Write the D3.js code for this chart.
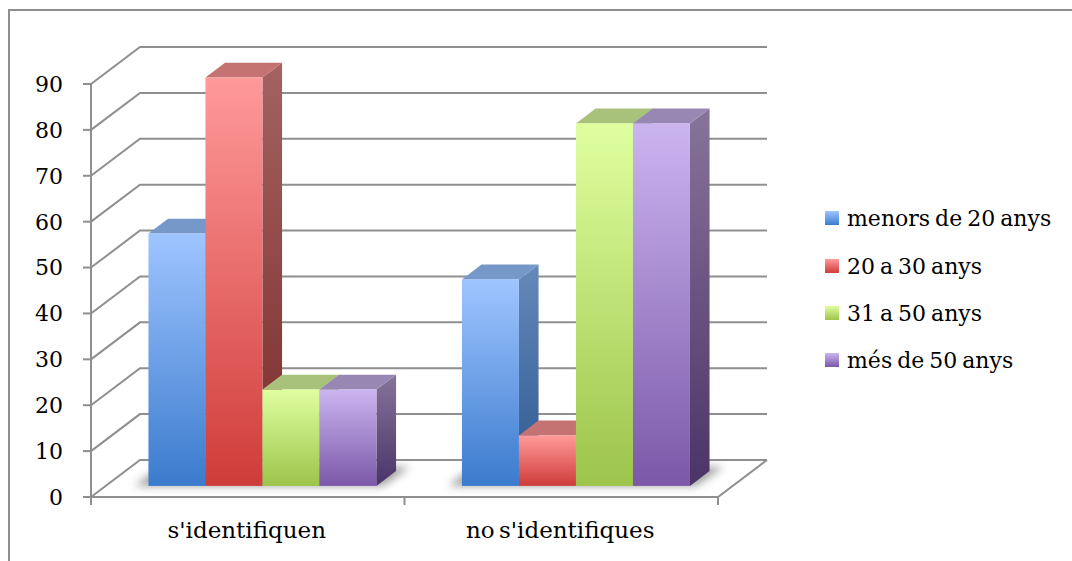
<!DOCTYPE html>
<html>
<head>
<meta charset="utf-8">
<script src="https://cdn.jsdelivr.net/npm/d3@7"></script>
<style>
  html, body { margin: 0; padding: 0; background: #fff; }
  svg { display: block; }
  text { font-family: "DejaVu Serif", "Liberation Serif", serif; fill: #000; }
</style>
</head>
<body>
<svg id="chart" width="1072" height="561"></svg>
<script>
// Data
const categories = ["s'identifiquen", "no s'identifiques"];
const series = ["menors de 20 anys", "20 a 30 anys", "31 a 50 anys", "més de 50 anys"];
const valuesIdentifiquen = [55, 89, 21, 21];
const valuesNoIdentifiques = [45, 11, 79, 79];
const yTicks = [0, 10, 20, 30, 40, 50, 60, 70, 80, 90];

const values = [valuesIdentifiquen, valuesNoIdentifiques];

// Colour sets per series: front face gradient, side face gradient, top face
const palette = [
  { front: ["#9fc5ff", "#3b7bcd"], side: ["#6689ba", "#2c5890"], top: "#7598c9" },
  { front: ["#ff9a9a", "#cf3c39"], side: ["#a46262", "#7b2b2b"], top: "#c47272" },
  { front: ["#dfff9f", "#9dc44b"], side: ["#9fb271", "#6c8a2f"], top: "#a9c27b" },
  { front: ["#cbb5f0", "#7b58a8"], side: ["#877499", "#4a3468"], top: "#9887b3" }
];

const svg = d3.select("#chart");

// Outer chart frame (top and left edges)
svg.append("path")
  .attr("d", "M9,561 L9,10 L1072,10")
  .attr("fill", "none")
  .attr("stroke", "#8e8e8e")
  .attr("stroke-width", 2);

// Front-plane scales
const y = d3.scaleLinear().domain([0, 90]).range([497, 84]);
const x = d3.scaleBand().domain(categories).range([91, 718]);
const inner = d3.scaleBand().domain(series).range([0, x.bandwidth()])
  .paddingInner(0).paddingOuter(0.75);

// Oblique depth vector of the whole plot (front -> back wall)
const DX = 49, DY = -37;
const d0 = 0.3, d1 = 0.7; // bar depth span as fraction of full depth

const defs = svg.append("defs");
palette.forEach((p, i) => {
  const gf = defs.append("linearGradient").attr("id", "front" + i)
    .attr("x1", 0).attr("y1", 0).attr("x2", 0).attr("y2", 1);
  gf.append("stop").attr("offset", "0%").attr("stop-color", p.front[0]);
  gf.append("stop").attr("offset", "100%").attr("stop-color", p.front[1]);
  const gs = defs.append("linearGradient").attr("id", "side" + i)
    .attr("x1", 0).attr("y1", 0).attr("x2", 0).attr("y2", 1);
  gs.append("stop").attr("offset", "0%").attr("stop-color", p.side[0]);
  gs.append("stop").attr("offset", "100%").attr("stop-color", p.side[1]);
});
defs.append("filter").attr("id", "soft")
  .attr("x", "-20%").attr("y", "-50%").attr("width", "140%").attr("height", "200%")
  .append("feGaussianBlur").attr("stdDeviation", 4);

const grid = svg.append("g");
const gridColor = "#8f8f8f";
const xL = x.range()[0], xR = x.range()[1];

// Floor outline (front edge and right edge)
grid.append("path")
  .attr("d", `M${xL},${y(0)} L${xR},${y(0)} L${xR + DX},${y(0) + DY}`)
  .attr("fill", "none").attr("stroke", gridColor).attr("stroke-width", 2);

// Wall gridlines: diagonal along the side wall then across the back wall
yTicks.forEach(t => {
  grid.append("path")
    .attr("d", `M${xL},${y(t)} L${xL + DX},${y(t) + DY} L${xR + DX},${y(t) + DY}`)
    .attr("fill", "none").attr("stroke", gridColor).attr("stroke-width", 2);
});

// Value axis line with ticks and labels
grid.append("line")
  .attr("x1", xL).attr("x2", xL).attr("y1", y(90)).attr("y2", y(0))
  .attr("stroke", gridColor).attr("stroke-width", 2);
const yAxis = svg.append("g");
yTicks.forEach(t => {
  yAxis.append("line")
    .attr("x1", xL - 8).attr("x2", xL).attr("y1", y(t)).attr("y2", y(t))
    .attr("stroke", gridColor).attr("stroke-width", 2);
  yAxis.append("text")
    .attr("x", 63).attr("y", y(t))
    .attr("dy", "0.36em")
    .attr("text-anchor", "end")
    .attr("font-size", 22)
    .text(t);
});

// Category axis ticks and labels
const catBounds = [xL].concat(categories.map(c => x(c) + x.bandwidth()));
catBounds.forEach(b => {
  svg.append("line")
    .attr("x1", b).attr("x2", b).attr("y1", y(0)).attr("y2", y(0) + 8)
    .attr("stroke", gridColor).attr("stroke-width", 2);
});
categories.forEach(c => {
  svg.append("text")
    .attr("x", x(c) + x.bandwidth() / 2 - 1)
    .attr("y", 538)
    .attr("text-anchor", "middle")
    .attr("font-size", 23)
    .attr("word-spacing", -3)
    .text(c);
});

// Bars
const bars = svg.append("g");
const ox0 = DX * d0, oy0 = DY * d0;
const bdx = DX * (d1 - d0), bdy = DY * (d1 - d0);

categories.forEach((c, ci) => {
  // soft shadow on the floor beneath the group
  const gx0 = x(c) + inner(series[0]) + ox0;
  const gx1 = x(c) + inner(series[series.length - 1]) + inner.bandwidth() + ox0;
  const gy = y(0) + oy0;
  bars.append("path")
    .attr("d", `M${gx0 - 14},${gy} L${gx1 + 6},${gy} L${gx1 + bdx + 14},${gy + bdy - 4} L${gx0 + bdx - 8},${gy + bdy - 4} Z`)
    .attr("fill", "#7e7e7e")
    .attr("opacity", 0.75)
    .attr("filter", "url(#soft)");

  series.forEach((s, si) => {
    const v = values[ci][si];
    const fx = x(c) + inner(s) + ox0;
    const w = inner.bandwidth();
    const top = y(v) + oy0;
    const bot = y(0) + oy0;
    const g = bars.append("g");
    // right side face
    g.append("path")
      .attr("d", `M${fx + w},${top} L${fx + w + bdx},${top + bdy} L${fx + w + bdx},${bot + bdy} L${fx + w},${bot} Z`)
      .attr("fill", `url(#side${si})`);
    // top face
    g.append("path")
      .attr("d", `M${fx},${top} L${fx + bdx},${top + bdy} L${fx + w + bdx},${top + bdy} L${fx + w},${top} Z`)
      .attr("fill", palette[si].top);
    // front face
    g.append("rect")
      .attr("x", fx).attr("y", top)
      .attr("width", w).attr("height", bot - top)
      .attr("fill", `url(#front${si})`);
  });
});

// Legend
const legend = svg.append("g");
const legendY = [218, 266, 313, 360];
series.forEach((s, i) => {
  legend.append("rect")
    .attr("x", 825).attr("y", legendY[i] - 7)
    .attr("width", 14).attr("height", 14)
    .attr("fill", `url(#front${i})`);
  legend.append("text")
    .attr("x", 847).attr("y", legendY[i])
    .attr("dy", "0.36em")
    .attr("font-size", 22)
    .attr("word-spacing", -2)
    .text(s);
});
</script>
</body>
</html>
